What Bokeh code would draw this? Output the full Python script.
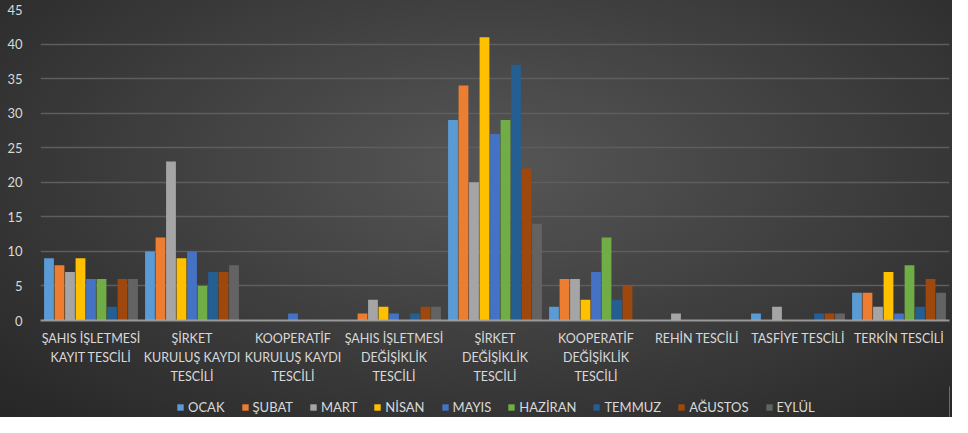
from bokeh.plotting import figure
from bokeh.models import ColumnDataSource, FactorRange, Range1d, Legend, LegendItem, Column
from bokeh.transform import dodge
from bokeh.embed import file_html
from bokeh.resources import INLINE

categories = [
    "ŞAHIS İŞLETMESİ\nKAYIT TESCİLİ",
    "ŞİRKET\nKURULUŞ KAYDI\nTESCİLİ",
    "KOOPERATİF\nKURULUŞ KAYDI\nTESCİLİ",
    "ŞAHIS İŞLETMESİ\nDEĞİŞİKLİK\nTESCİLİ",
    "ŞİRKET\nDEĞİŞİKLİK\nTESCİLİ",
    "KOOPERATİF\nDEĞİŞİKLİK\nTESCİLİ",
    "REHİN TESCİLİ",
    "TASFİYE TESCİLİ",
    "TERKİN TESCİLİ",
]
months = ["OCAK", "ŞUBAT", "MART", "NİSAN", "MAYIS", "HAZİRAN", "TEMMUZ", "AĞUSTOS", "EYLÜL"]

ocak = [9, 10, 0, 0, 29, 2, 0, 1, 4]
subat = [8, 12, 0, 1, 34, 6, 0, 0, 4]
mart = [7, 23, 0, 3, 20, 6, 1, 2, 2]
nisan = [9, 9, 0, 2, 41, 3, 0, 0, 7]
mayis = [6, 10, 1, 1, 27, 7, 0, 0, 1]
haziran = [6, 5, 0, 0, 29, 12, 0, 0, 8]
temmuz = [2, 7, 0, 1, 37, 3, 0, 1, 2]
agustos = [6, 7, 0, 2, 22, 5, 0, 1, 6]
eylul = [6, 8, 0, 2, 14, 0, 0, 1, 4]

y_ticks = [0, 5, 10, 15, 20, 25, 30, 35, 40, 45]

series = [ocak, subat, mart, nisan, mayis, haziran, temmuz, agustos, eylul]
colors = ["#5B9BD5", "#ED7D31", "#A5A5A5", "#FFC000", "#4472C4",
          "#70AD47", "#255E91", "#9E480E", "#636363"]

data = {"cat": categories}
keys = []
for i, s in enumerate(series):
    k = "m%d" % i
    keys.append(k)
    data[k] = s
source = ColumnDataSource(data)

FONT = "Lato"
TXT = "#d9d9d9"
W = 952

p = figure(
    width=W, height=386,
    x_range=FactorRange(*categories, range_padding=0),
    y_range=Range1d(0, 45),
    output_backend="svg", toolbar_location=None,
    min_border_left=40, min_border_right=3, min_border_top=9, min_border_bottom=60,
)
p.background_fill_color = None
p.border_fill_color = None
p.outline_line_color = None

step = 0.104
width = 0.097
for i, (k, c) in enumerate(zip(keys, colors)):
    p.vbar(x=dodge("cat", (i - 4) * step, range=p.x_range), top=k, width=width,
           source=source, fill_color=c, line_color=None)

p.xgrid.grid_line_color = None
p.ygrid.grid_line_color = "#5e5e5e"
p.ygrid.grid_line_width = 1.5
p.ygrid.ticker = y_ticks

p.yaxis.ticker = y_ticks
p.yaxis.axis_line_color = None
p.yaxis.major_tick_line_color = None
p.yaxis.minor_tick_line_color = None
p.yaxis.major_label_standoff = 12
p.yaxis.major_label_text_font = FONT
p.yaxis.major_label_text_font_size = "13px"
p.yaxis.major_label_text_color = TXT

p.xaxis.axis_line_color = "#a8a8a8"
p.xaxis.axis_line_width = 2
p.xaxis.axis_line_alpha = 0.85
p.xaxis.major_tick_line_color = None
p.xaxis.minor_tick_line_color = None
p.xaxis.major_label_standoff = 4
p.xaxis.major_label_text_font = FONT
p.xaxis.major_label_text_font_size = "12.5px"
p.xaxis.major_label_text_color = TXT
p.xaxis.major_label_text_line_height = 1.27

# legend strip: a second figure whose legend swatches use the same colours
lf = figure(width=W, height=31, x_range=Range1d(0, 1), y_range=Range1d(0, 1),
            output_backend="svg", toolbar_location=None,
            min_border_left=0, min_border_right=0, min_border_top=0, min_border_bottom=0)
lf.axis.visible = False
lf.grid.visible = False
lf.background_fill_color = None
lf.border_fill_color = None
lf.outline_line_color = None
items = []
for m, c in zip(months, colors):
    r = lf.vbar(x=[5], top=[1], width=0.1, fill_color=c, line_color=None)
    items.append(LegendItem(label=m, renderers=[r]))

legend = Legend(items=items, orientation="horizontal", location=(134, 0),
                glyph_width=8, glyph_height=8, label_standoff=4, spacing=16,
                label_text_font=FONT, label_text_font_size="13px",
                label_text_color=TXT, background_fill_alpha=0,
                border_line_alpha=0, padding=2, margin=0)
lf.add_layout(legend)

layout = Column(p, lf, spacing=0)
layout.styles = {
    "background-image": "radial-gradient(ellipse farthest-corner at 52% 40%, #565656 0%, #434343 40%, #262626 100%)"
}

open("out.html", "w").write(file_html(layout, INLINE))
